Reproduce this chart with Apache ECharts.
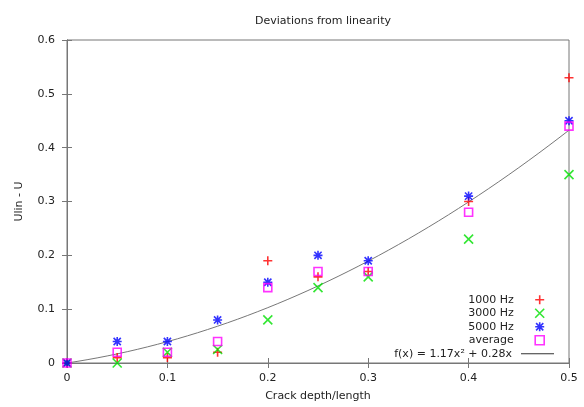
<!DOCTYPE html>
<html><head><meta charset="utf-8">
<script src="https://cdn.jsdelivr.net/npm/echarts@6/dist/echarts.min.js"></script>
<style>html,body{margin:0;padding:0;background:#fff}#c{width:584px;height:407px}</style>
</head><body><div id="c"></div>
<script>
const depth = [0, 0.05, 0.1, 0.15, 0.2, 0.25, 0.3, 0.4, 0.5];
const hz1000 = [0, 0.01, 0.01, 0.02, 0.19, 0.16, 0.17, 0.30, 0.53];
const hz3000 = [0, 0.00, 0.02, 0.025, 0.08, 0.14, 0.16, 0.23, 0.35];
const hz5000 = [0, 0.04, 0.04, 0.08, 0.15, 0.20, 0.19, 0.31, 0.45];
const average = [0, 0.02, 0.02, 0.04, 0.14, 0.17, 0.17, 0.28, 0.44];
const fitA = 1.17, fitB = 0.28;
const fitXs = [];
for (let i = 0; i <= 50; i++) fitXs.push(i / 100);
const xTicks = [0, 0.1, 0.2, 0.3, 0.4, 0.5];
const yTicks = [0, 0.1, 0.2, 0.3, 0.4, 0.5, 0.6];

const pair = (ys) => depth.map((x, i) => [x, ys[i]]);
const fitData = fitXs.map(x => [x, fitA * x * x + fitB * x]);
const fitName = 'f(x) = 1.17x\u00b2 + 0.28x';

const FONT = 'DejaVu Sans';
const plus = 'path://M0,5L10,5M5,0L5,10';
const cross = 'path://M0,0L10,10M10,0L0,10';
const star = 'path://M0,5L10,5M5,0L5,10M1,1L9,9M9,1L1,9';
const square = 'path://M0,0L10,0L10,10L0,10Z';

function sc(name, data, sym, col, size) {
  return {
    name, type: 'scatter', data, symbol: sym, symbolSize: size || 9,
    itemStyle: { color: 'rgba(255,255,255,0)', borderColor: col, borderWidth: 1.6 },
    emphasis: { disabled: true }
  };
}
const chart = echarts.init(document.getElementById('c'), null, { renderer: 'canvas' });
const axisCommon = {
  type: 'value', min: 0, interval: 0.1,
  axisLine: { show: true, lineStyle: { color: '#777', width: 1 } },
  axisTick: { show: true, inside: true, length: 5, lineStyle: { color: '#777' } },
  splitLine: { show: false },
  axisLabel: { color: '#222', fontFamily: FONT, fontSize: 11 }
};
chart.setOption({
  animation: false,
  backgroundColor: '#fff',
  title: { text: 'Deviations from linearity', left: 318, top: 11, textAlign: 'center',
    textStyle: { fontFamily: FONT, fontSize: 11, fontWeight: 'normal', color: '#222' } },
  grid: { left: 67, right: 15, top: 40, bottom: 44, show: true, borderColor: '#777', borderWidth: 1 },
  xAxis: [
    Object.assign({}, axisCommon, { max: 0.5, name: 'Crack depth/length', nameLocation: 'middle', nameGap: 28,
      nameTextStyle: { fontFamily: FONT, fontSize: 11, color: '#222' },
      axisLabel: { color: '#222', fontFamily: FONT, fontSize: 11, margin: 10, formatter: v => String(v) } }),
    Object.assign({}, axisCommon, { max: 0.5, position: 'top', axisLabel: { show: false } })
  ],
  yAxis: [
    Object.assign({}, axisCommon, { max: 0.6, name: 'Ulin - U', nameLocation: 'middle', nameGap: 42,
      nameTextStyle: { fontFamily: FONT, fontSize: 11, color: '#222' },
      axisLabel: { color: '#222', fontFamily: FONT, fontSize: 11, margin: 12, formatter: v => String(v) } }),
    Object.assign({}, axisCommon, { max: 0.6, position: 'right', axisLabel: { show: false } })
  ],
  legend: [
    {
      orient: 'vertical', right: 34, top: 288, align: 'right',
      itemWidth: 10, itemHeight: 9, itemGap: 0, itemStyle: { borderWidth: 1.6 },
      textStyle: { fontFamily: FONT, fontSize: 11, color: '#222', lineHeight: 13.5, padding: [0, 16, 0, 0] },
      data: [
        { name: '1000 Hz', icon: plus },
        { name: '3000 Hz', icon: cross },
        { name: '5000 Hz', icon: star },
        { name: 'average', icon: square }
      ]
    },
    {
      orient: 'vertical', right: 25, top: 342, align: 'right',
      itemWidth: 33, itemHeight: 1, itemGap: 0,
      textStyle: { fontFamily: FONT, fontSize: 11, color: '#222', lineHeight: 13.5, padding: [0, 4, 0, 0] },
      data: [{ name: fitName, icon: 'rect', itemStyle: { color: '#333', borderWidth: 0 } }]
    }
  ],
  series: [
    {
      name: fitName, type: 'line', data: fitData, showSymbol: false, symbol: 'none',
      smooth: false, lineStyle: { color: '#777', width: 1 }, itemStyle: { color: '#555' }, z: 1
    },
    sc('1000 Hz', pair(hz1000), plus, '#ff0000'),
    sc('3000 Hz', pair(hz3000), cross, '#00e000'),
    sc('5000 Hz', pair(hz5000), star, '#0000ff'),
    sc('average', pair(average), square, '#ff00ff', 8)
  ]
});
</script></body></html>
